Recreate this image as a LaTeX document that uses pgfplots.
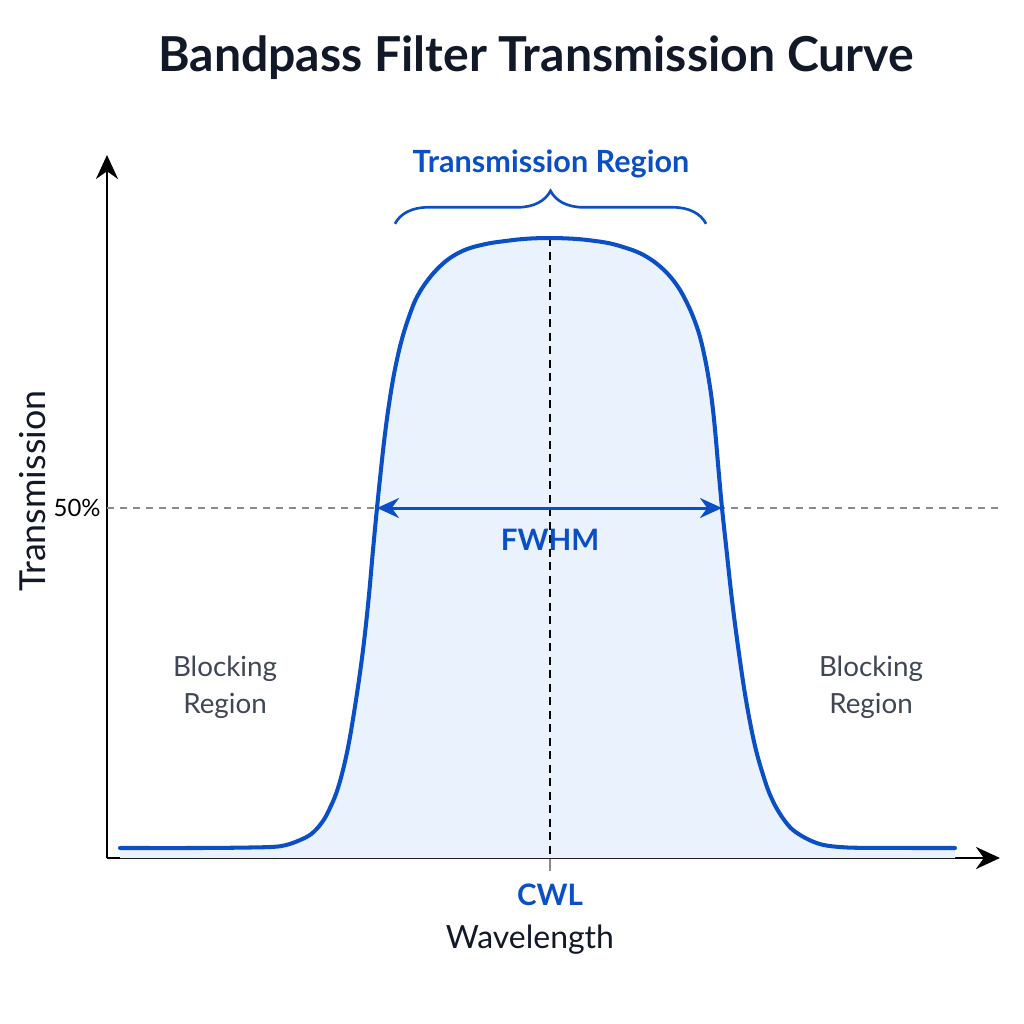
\documentclass[border=0pt]{standalone}
\usepackage{pgfplots}
\pgfplotsset{compat=1.18}
\usepackage{fontspec}
\setmainfont{Lato}
\usetikzlibrary{arrows.meta,decorations.pathreplacing}
\definecolor{fblue}{HTML}{0B4FC6}
\definecolor{ffill}{HTML}{EAF3FD}
\definecolor{navy}{HTML}{111827}
\definecolor{slate}{HTML}{3F4654}
\definecolor{dgray}{HTML}{8A8A8A}
\pgfplotstableread{
x y
120 1.43
200 1.43
250 1.5
274 1.6
286 1.85
299 2.5
311 3.4
321 4.9
328.5 6.7
338 10.0
347.5 15.43
356 22.57
363 29.71
368.5 36.86
373 44.0
377 50.0
380.6 55.0
384.6 60.14
389.2 65.0
394.8 69.71
402.5 74.43
412.5 78.71
419.5 80.8
428 82.6
437 84.1
447 85.4
458 86.4
470 87.14
487 87.75
503 88.1
525 88.45
549.5 88.57
575 88.45
595 88.15
610 87.8
625 87.2
640 86.4
654 85.2
667 83.57
678 81.6
687 79.29
694 77.0
700 74.43
705.5 71.0
710 67.29
713 64.0
715.7 60.14
718.8 55.0
722 50.0
726.5 44.0
732 36.86
738.5 29.71
746 22.57
755 16.0
765 11.0
772 8.4
780 6.3
790 4.4
800 3.3
812 2.4
824 1.85
840 1.57
865 1.45
955 1.43
}\curve
\begin{document}
\begin{tikzpicture}
\path[use as bounding box] (-1.07,-1.66) rectangle (9.17,8.58);
\begin{axis}[
 at={(0,0)}, anchor=south west,
 width=8.93cm, height=7.03cm, scale only axis,
 xmin=107, xmax=1000, ymin=0, ymax=100.43,
 enlargelimits=false, clip=false,
 axis lines=left,
 axis line style={line width=0.85pt, black, -{Stealth[length=2.4mm,width=2.2mm]}},
 xtick={550}, xticklabels={CWL},
 ytick={50}, yticklabels={50\%},
 tick align=outside,
 major tick length=1.3mm,
 x tick style={dgray, line width=0.5pt},
 y tick style={draw=none},
 xticklabel style={font=\fontsize{8.4}{10}\selectfont\bfseries, text=fblue, anchor=north, yshift=0mm},
 yticklabel style={font=\fontsize{6.8}{8}\selectfont, text=black, anchor=east, xshift=1.9mm},
 title={Bandpass Filter Transmission Curve},
 title style={font=\fontsize{13.7}{16}\selectfont\bfseries, text=navy, at={(axis description cs:0.4804,1.089)}, anchor=base},
 xlabel={Wavelength},
 xlabel style={font=\fontsize{9.1}{11}\selectfont, text=navy, at={(axis description cs:0.4737,-0.1166)}, anchor=center},
 ylabel={Transmission},
 ylabel style={font=\fontsize{10.2}{12}\selectfont, text=navy, at={(axis description cs:-0.0829,0.5217)}, anchor=center},
]
% dashed reference line
\addplot[dgray, line width=0.55pt, dash pattern=on 0.7mm off 0.6mm] coordinates {(107,50) (1000,50)};
% filled area under the curve
\addplot[draw=none, fill=ffill, smooth, tension=0.6] table[x=x,y=y] {\curve} \closedcycle;
\addplot[black, line width=0.55pt, dash pattern=on 0.8mm off 0.55mm] coordinates {(550,88.57) (550,0)};
\addplot[fblue, line width=1.15pt, smooth, tension=0.6, line cap=round] table[x=x,y=y] {\curve};
% FWHM arrow
\draw[fblue, line width=0.85pt, {Stealth[length=2.2mm,width=2mm]}-{Stealth[length=2.2mm,width=2mm]}] (axis cs:377,50) -- (axis cs:722,50);
\node[anchor=base, text=fblue, font=\fontsize{8.4}{10}\selectfont\bfseries] at (axis cs:550,43.86) {FWHM};
% brace
\draw[fblue, line width=0.75pt, decorate, decoration={brace, amplitude=3.3mm}] (axis cs:395,90.6) -- (axis cs:706,90.6);
\node[anchor=base, text=fblue, font=\fontsize{8.7}{10}\selectfont\bfseries] at (axis cs:551,98.0) {Transmission Region};
% blocking regions
\node[anchor=base, text=slate, font=\fontsize{7.9}{9}\selectfont] at (axis cs:225,25.86) {Blocking};
\node[anchor=base, text=slate, font=\fontsize{7.9}{9}\selectfont] at (axis cs:225,20.71) {Region};
\node[anchor=base, text=slate, font=\fontsize{7.9}{9}\selectfont] at (axis cs:871,25.86) {Blocking};
\node[anchor=base, text=slate, font=\fontsize{7.9}{9}\selectfont] at (axis cs:871,20.71) {Region};
\end{axis}
\end{tikzpicture}
\end{document}
